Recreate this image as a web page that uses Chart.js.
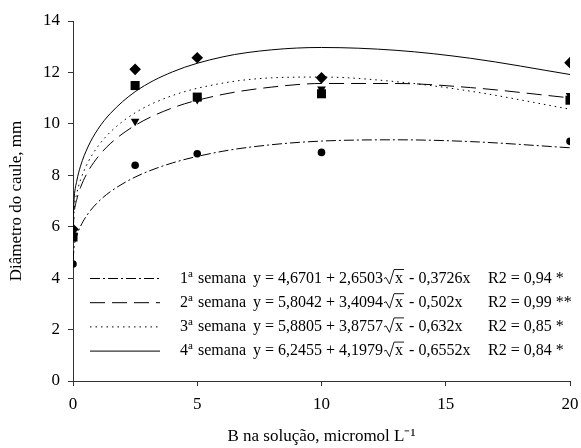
<!DOCTYPE html>
<html>
<head>
<meta charset="utf-8">
<script src="https://cdn.jsdelivr.net/npm/chart.js@4"></script>
<style>
  html, body { margin: 0; padding: 0; background: #fff; }
  canvas { display: block; }
</style>
</head>
<body>
<canvas id="chart" width="581" height="448"></canvas>
<script>
// Observed points (B in solution, stem diameter)
const doses = [0, 2.5, 5, 10, 20];
const week1Pts = [4.55, 8.39, 8.84, 8.89, 9.32];
const week2Pts = [5.80, 10.10, 10.95, 11.36, 11.10];
const week3Pts = [5.60, 11.49, 11.04, 11.17, 10.92];
const week4Pts = [5.90, 12.12, 12.57, 11.79, 12.38];

// Fitted curves
const curveX = [0, 0.05, 0.15, 0.3, 0.6, 1, 1.5, 2.5, 4, 6, 8, 10, 13, 16, 20];
const week1Fit = [4.67, 5.24, 5.64, 6.01, 6.50, 6.95, 7.36, 7.93, 8.48, 8.93, 9.19, 9.33, 9.38, 9.31, 9.07];
const week2Fit = [5.80, 6.54, 7.05, 7.52, 8.14, 8.71, 9.23, 9.94, 10.62, 11.14, 11.43, 11.57, 11.57, 11.41, 11.01];
const week3Fit = [5.88, 6.72, 7.29, 7.81, 8.50, 9.12, 9.68, 10.43, 11.10, 11.58, 11.79, 11.82, 11.64, 11.27, 10.57];
const week4Fit = [6.25, 7.15, 7.77, 8.35, 9.10, 9.79, 10.40, 11.25, 12.02, 12.60, 12.88, 12.97, 12.86, 12.55, 11.92];

const xTicks = [0, 5, 10, 15, 20];
const yTicks = [0, 2, 4, 6, 8, 10, 12, 14];

// Legend text
const weekNums = ['1', '2', '3', '4'];
const eqHead = ['y = 4,6701 + 2,6503', 'y = 5,8042 + 3,4094', 'y = 5,8805 + 3,8757', 'y = 6,2455 + 4,1979'];
const eqTail = [' - 0,3726x', ' - 0,502x', ' - 0,632x', ' - 0,6552x'];
const r2Text = ['R2 = 0,94 *', 'R2 = 0,99 **', 'R2 = 0,85 *', 'R2 = 0,84 *'];

const SERIF = "'Liberation Serif', 'Times New Roman', serif";
const dashes = [[10, 3, 2, 3], [15, 7], [1.5, 4], []];
const fits = [week1Fit, week2Fit, week3Fit, week4Fit];
const pts = [week1Pts, week2Pts, week3Pts, week4Pts];
const markers = [
    { style: 'circle', r: 3.8, rot: 0 },
    { style: 'triangle', r: 5, rot: 180 },
    { style: 'rect', r: 6.4, rot: 0 },
    { style: 'rectRot', r: 5.8, rot: 0 }
];

const toXY = (xs, ys) => xs.map((x, i) => ({ x: x, y: ys[i] }));

const datasets = [];
pts.forEach((p, i) => {
    datasets.push({
        data: toXY(doses, p),
        showLine: false,
        pointStyle: markers[i].style,
        pointRadius: markers[i].r,
        pointRotation: markers[i].rot,
        pointBackgroundColor: '#000',
        pointBorderColor: '#000',
        pointBorderWidth: 0,
        order: 0
    });
});
fits.forEach((f, i) => {
    datasets.push({
        data: toXY(curveX, f),
        showLine: true,
        pointRadius: 0,
        borderColor: '#000',
        borderWidth: 1,
        borderDash: dashes[i],
        cubicInterpolationMode: 'monotone',
        fill: false,
        order: 1
    });
});

// equation legend drawn inside the plot
const eqLegend = {
    id: 'eqLegend',
    afterDatasetsDraw(chart) {
        const ctx = chart.ctx;
        const left = chart.chartArea.left;
        ctx.save();
        weekNums.forEach((n, i) => {
            const y = 278.5 + i * 24.2;
            const yb = y + 4;
            // line sample
            ctx.strokeStyle = '#000';
            ctx.lineWidth = 1;
            ctx.setLineDash(dashes[i]);
            ctx.beginPath();
            ctx.moveTo(left + 17, y);
            ctx.lineTo(left + 87, y);
            ctx.stroke();
            ctx.setLineDash([]);

            ctx.fillStyle = '#000';
            ctx.textBaseline = 'alphabetic';
            ctx.textAlign = 'left';
            ctx.font = '16px ' + SERIF;
            let x = left + 107;
            ctx.fillText(n, x, yb);
            x += ctx.measureText(n).width;
            ctx.font = '11px ' + SERIF;
            ctx.fillText('a', x, yb - 6);
            ctx.font = '16px ' + SERIF;
            ctx.fillText('semana', left + 125, yb);

            x = left + 180;
            ctx.fillText(eqHead[i], x, yb);
            x += ctx.measureText(eqHead[i]).width + 1;
            const xw = ctx.measureText('x').width;
            ctx.lineWidth = 0.9;
            ctx.beginPath();
            ctx.moveTo(x, yb - 4);
            ctx.lineTo(x + 2, yb - 5);
            ctx.lineTo(x + 5.5, yb + 1.5);
            ctx.lineTo(x + 10, yb - 13);
            ctx.lineTo(x + 12 + xw, yb - 13);
            ctx.stroke();
            ctx.fillText('x', x + 11, yb);
            x += 11 + xw;
            ctx.fillText(eqTail[i], x + 2, yb);
            ctx.fillText(r2Text[i], left + 415, yb);
        });
        ctx.restore();
    }
};

new Chart(document.getElementById('chart'), {
    type: 'scatter',
    data: { datasets: datasets },
    plugins: [eqLegend],
    options: {
        responsive: false,
        animation: false,
        devicePixelRatio: 1,
        layout: { padding: { top: 21, right: 11, left: 0, bottom: 0 } },
        plugins: { legend: { display: false }, tooltip: { enabled: false } },
        scales: {
            x: {
                type: 'linear',
                min: 0, max: 20,
                afterFit: s => { s.height = 67; s.paddingRight = 0; s.paddingLeft = 0; },
                afterBuildTicks: s => { s.ticks = xTicks.map(v => ({ value: v })); },
                ticks: { color: '#000', font: { family: SERIF, size: 17 }, padding: 8 },
                grid: { drawOnChartArea: false, drawTicks: true, tickLength: 5, color: '#333' },
                border: { color: '#333', width: 1 },
                title: {
                    display: true,
                    text: 'B na solução, micromol L⁻¹',
                    color: '#000',
                    font: { family: SERIF, size: 17 },
                    padding: { top: 0, bottom: 1 }
                }
            },
            y: {
                min: 0, max: 14,
                afterFit: s => { s.width = 73; s.paddingTop = 0; s.paddingBottom = 0; },
                afterBuildTicks: s => { s.ticks = yTicks.map(v => ({ value: v })); },
                ticks: { color: '#000', font: { family: SERIF, size: 17 }, padding: 8 },
                grid: { drawOnChartArea: false, drawTicks: true, tickLength: 5, color: '#333' },
                border: { color: '#333', width: 1 },
                title: {
                    display: true,
                    text: 'Diâmetro do caule, mm',
                    color: '#000',
                    font: { family: SERIF, size: 17 },
                    padding: { top: 6, bottom: 0 }
                }
            }
        }
    }
});
</script>
</body>
</html>
